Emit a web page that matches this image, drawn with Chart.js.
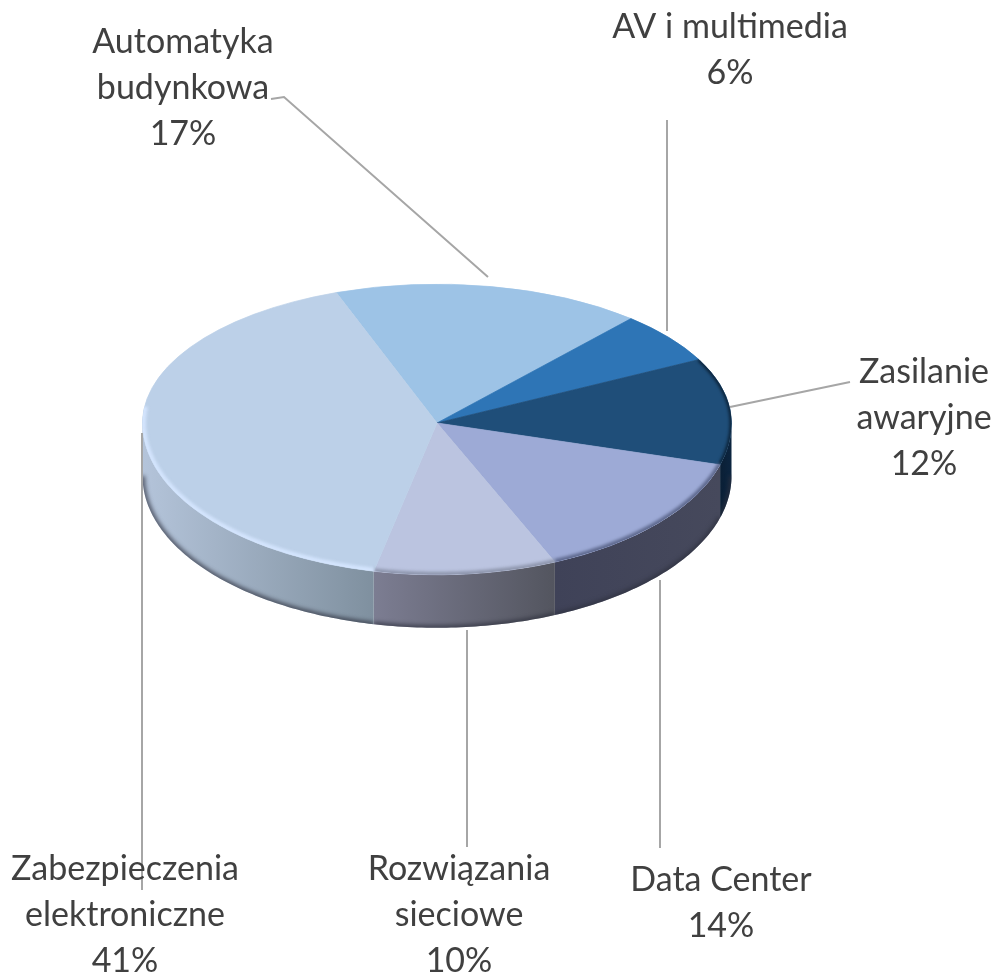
<!DOCTYPE html>
<html lang="pl">
<head>
<meta charset="utf-8">
<title>Udział obszarów</title>
<script src="https://cdn.jsdelivr.net/npm/chart.js@4"></script>
<style>
  html, body { margin: 0; padding: 0; background: #fff; }
  canvas { display: block; }
</style>
</head>
<body>
<canvas id="pieChart" width="1000" height="976"></canvas>
<script>
const categories = ['Automatyka budynkowa', 'AV i multimedia', 'Zasilanie awaryjne', 'Data Center', 'Rozwiązania sieciowe', 'Zabezpieczenia elektroniczne'];
const labelLines = [['Automatyka', 'budynkowa'], ['AV i multimedia'], ['Zasilanie', 'awaryjne'], ['Data Center'], ['Rozwiązania', 'sieciowe'], ['Zabezpieczenia', 'elektroniczne']];
const shares = [17, 6, 12, 14, 10, 41];

const faceColors = ['#9DC3E6', '#2E75B6', '#1F4E79', '#9DAAD6', '#BBC4E0', '#BCD0E8'];
const sideColors = [null, null, ['#0A1F35', '#0C2540'], ['#3F4258', '#46495C'], ['#7C7D92', '#53555F'], ['#B4C4DA', '#7F909F']];
const rimColors = [null, null, '#0B2238', '#5F6A8F', '#8F97AE', '#D3E4FD'];
const rimWidths = [0, 0, 4, 6, 6, 7];

// where each label sits, and its leader line
const labelX = [183, 730, 924, 721, 459, 125];
const labelY = [42, 27, 372, 880, 869, 869];
const lineHeight = 46;
const leaders = [
    [[271, 99], [284, 97], [488, 277]],
    [[667, 120], [667, 331]],
    [[850, 382], [730, 407]],
    [[660, 580], [660, 848]],
    [[467, 630], [467, 847]],
    [[142, 433], [142, 890]]
];

// the top of the disc is a bit flatter than the front, as in a perspective view
const squashTop = 139 / 295;
const squashBottom = 152 / 295;
const depth = 53;

function traceRim(ctx, el, a0, a1, dy, first) {
    const steps = Math.max(2, Math.ceil(Math.abs(a1 - a0) * 60));
    for (let i = 0; i <= steps; i++) {
        const a = a0 + (a1 - a0) * i / steps;
        const s = Math.sin(a);
        const x = el.x + el.outerRadius * Math.cos(a);
        const y = el.y + dy + el.outerRadius * s * (s < 0 ? squashTop : squashBottom);
        if (i === 0 && first) ctx.moveTo(x, y); else ctx.lineTo(x, y);
    }
}

const disc3d = {
    id: 'disc3d',
    beforeDatasetsDraw(chart) {
        const ctx = chart.ctx;
        const arcs = chart.getDatasetMeta(0).data;

        // side wall
        arcs.forEach((el, i) => {
            if (!sideColors[i]) return;
            const a0 = Math.max(el.startAngle, 0);
            const a1 = Math.min(el.endAngle, Math.PI);
            if (a1 <= a0) return;
            const xa = el.x + el.outerRadius * Math.cos(a0);
            const xb = el.x + el.outerRadius * Math.cos(a1);
            const grad = ctx.createLinearGradient(Math.min(xa, xb), 0, Math.max(xa, xb), 0);
            grad.addColorStop(0, sideColors[i][0]);
            grad.addColorStop(1, sideColors[i][1]);
            ctx.save();
            ctx.beginPath();
            traceRim(ctx, el, a0, a1, 0, true);
            traceRim(ctx, el, a1, a0, depth, false);
            ctx.closePath();
            ctx.fillStyle = grad;
            ctx.fill();
            ctx.clip();
            // dark soft edge along the bottom
            ctx.beginPath();
            traceRim(ctx, el, a0, a1, depth, true);
            ctx.strokeStyle = 'rgba(45,48,62,0.75)';
            ctx.lineWidth = 5;
            ctx.filter = 'blur(2px)';
            ctx.stroke();
            ctx.restore();
        });

        // top face, the library's arcs drawn through two vertical squashes
        const el0 = arcs[0];
        const halves = [[0, el0.y, squashTop], [el0.y, chart.height - el0.y, squashBottom]];
        halves.forEach(([top, h, k]) => {
            ctx.save();
            ctx.beginPath();
            ctx.rect(0, top, chart.width, h);
            ctx.clip();
            ctx.translate(0, el0.y);
            ctx.scale(1, k);
            ctx.translate(0, -el0.y);
            arcs.forEach(el => el.draw(ctx));
            ctx.restore();
        });

        // bevel on the rim of the face, only on the front and a little round the left
        ctx.save();
        ctx.beginPath();
        traceRim(ctx, el0, 0, Math.PI * 2, 0, true);
        ctx.closePath();
        ctx.clip();
        arcs.forEach((el, i) => {
            if (!rimColors[i]) return;
            ctx.beginPath();
            traceRim(ctx, el, el.startAngle, Math.min(el.endAngle, Math.PI + 0.12), 0, true);
            ctx.strokeStyle = rimColors[i];
            ctx.lineWidth = rimWidths[i];
            ctx.filter = 'blur(1.5px)';
            ctx.stroke();
        });
        ctx.restore();

        return false;
    },
    afterDraw(chart) {
        const ctx = chart.ctx;
        ctx.save();
        ctx.strokeStyle = '#A6A6A6';
        ctx.lineWidth = 2;
        leaders.forEach(pts => {
            ctx.beginPath();
            pts.forEach((p, i) => i ? ctx.lineTo(p[0], p[1]) : ctx.moveTo(p[0], p[1]));
            ctx.stroke();
        });
        ctx.fillStyle = '#404040';
        ctx.font = '34px Lato';
        ctx.textAlign = 'center';
        ctx.textBaseline = 'middle';
        labelLines.forEach((lines, i) => {
            const all = lines.concat(shares[i] + '%');
            all.forEach((txt, j) => ctx.fillText(txt, labelX[i], labelY[i] + j * lineHeight));
        });
        ctx.restore();
    }
};

new Chart(document.getElementById('pieChart').getContext('2d'), {
    type: 'pie',
    data: {
        labels: categories,
        datasets: [{
            data: shares,
            backgroundColor: faceColors,
            borderColor: faceColors,
            borderWidth: 1
        }]
    },
    options: {
        responsive: false,
        animation: false,
        events: [],
        rotation: -20,
        layout: { padding: { left: 142, right: 268, top: 128, bottom: 258 } },
        plugins: { legend: { display: false }, tooltip: { enabled: false } }
    },
    plugins: [disc3d]
});
</script>
</body>
</html>
